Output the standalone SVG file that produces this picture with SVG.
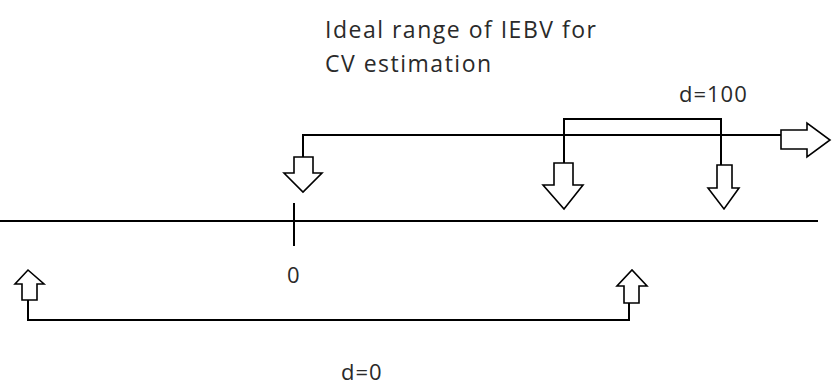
<svg xmlns="http://www.w3.org/2000/svg" width="832" height="385" viewBox="0 0 832 385">
<style>
.ln{stroke:#000;stroke-width:2;fill:none}
.ar{stroke:#000;stroke-width:1.6;fill:#fff;stroke-linejoin:miter}
.t{font-family:"Open Sans","Noto Sans",sans-serif;font-size:23px;letter-spacing:1.5px;fill:#2a2a2a}
.s{font-family:"Open Sans","Noto Sans",sans-serif;font-size:22px;letter-spacing:1px;fill:#2a2a2a}
</style>
<rect width="832" height="385" fill="#fff"/>
<g id="connectors">
<line class="ln" x1="0" y1="221" x2="818" y2="221"/>
<line class="ln" x1="294" y1="203" x2="294" y2="246"/>
<polyline class="ln" points="303,157 303,135 781,135"/>
<polyline class="ln" points="564,163 564,119 721,119 721,165"/>
<polyline class="ln" points="28,300 28,320 629,320 629,303"/>
</g>
<g id="arrow-zero">
<polygon class="ar" points="294,157 313,157 313,173 322,173 303,192 284,173 294,173"/>
</g>
<g id="arrow-d100-left">
<polygon class="ar" points="554,163 573,163 573,185 583,185 564,209 543,185 554,185"/>
</g>
<g id="arrow-d100-right">
<polygon class="ar" points="717,165 732,165 732,188 739,188 724,209 708,188 717,188"/>
</g>
<g id="arrow-right">
<polygon class="ar" points="781,130 807,130 807,123 830,140 807,157 807,149 781,149"/>
</g>
<g id="arrow-d0-left">
<polygon class="ar" points="22,300 37,300 37,284 44,284 28,270 15,284 22,284"/>
</g>
<g id="arrow-d0-right">
<polygon class="ar" points="624,303 639,303 639,286 647,286 632,270 617,286 624,286"/>
</g>
<g id="labels">
<text class="t" x="325" y="38">Ideal range of IEBV for</text>
<text class="t" x="325" y="72">CV estimation</text>
<text class="s" x="679" y="102">d=100</text>
<text class="s" x="287" y="283">0</text>
<text class="s" x="341" y="380">d=0</text>
</g>
</svg>
